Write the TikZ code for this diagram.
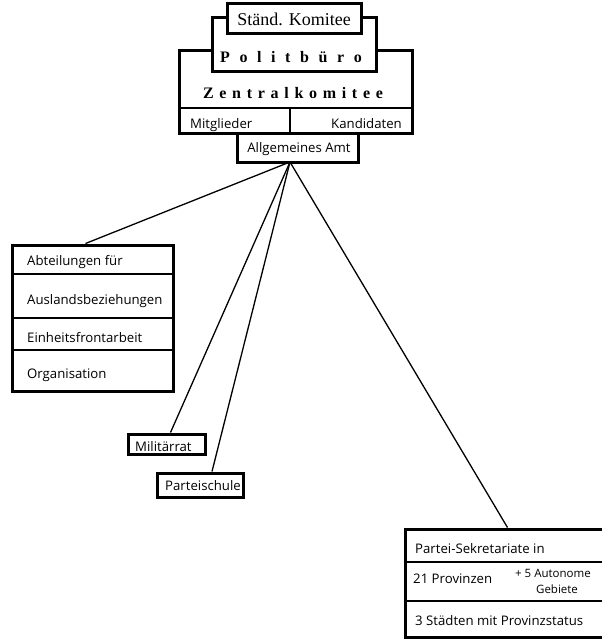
\documentclass[tikz,border=0pt]{standalone}
\usepackage{fontspec}
\setmainfont{Open Sans}
\newfontfamily\serf{Liberation Serif}
\usetikzlibrary{calc}
\newcommand\gsp[1]{\hspace{#1}}
\tikzset{
  box/.style={draw, line width=3pt, fill=white, rectangle, inner sep=0pt},
  conn/.style={line width=1.3pt},
  divl/.style={line width=1.4pt},
  divh/.style={line width=2.2pt},
  lbl/.style={inner sep=0pt, font=\fontsize{13.2}{15}\selectfont},
  small/.style={inner sep=0pt, font=\fontsize{11.5}{13}\selectfont},
}
\begin{document}
\begin{tikzpicture}[x=1pt,y=-1pt]
\useasboundingbox[fill=white] (0,0) rectangle (602,641);

% top committee stack
\node[box, minimum width=233pt, minimum height=83pt] (zk) at (295.5,91.5) {};
\node[box, minimum width=164pt, minimum height=54pt] (pb) at (294,44) {};
\node[box, minimum width=134pt, minimum height=30pt] (sk) at (294,18) {};
\node[box, minimum width=121pt, minimum height=29pt] (amt) at (297.5,147.5) {};
\draw[divl] (179,108) -- (412,108);
\draw[divl] (290,108) -- (290,133);

\node[inner sep=0pt, anchor=base, font=\serf\fontsize{18}{20}\selectfont] (skt) at (294,25) {Ständ. Komitee};
\node[inner sep=0pt, anchor=base, font=\serf\bfseries\fontsize{16}{18}\selectfont] (pbt) at (291,62)
  {P\gsp{9.6pt}o\gsp{9.6pt}l\gsp{9.6pt}i\gsp{9.6pt}t\gsp{9.6pt}b\gsp{9.6pt}ü\gsp{9.6pt}r\gsp{9.6pt}o};
\node[inner sep=0pt, anchor=base, font=\serf\bfseries\fontsize{16}{18}\selectfont] (zkt) at (293,98)
  {Z\gsp{5.7pt}e\gsp{5.7pt}n\gsp{5.7pt}t\gsp{5.7pt}r\gsp{5.7pt}a\gsp{5.7pt}l\gsp{5.7pt}k\gsp{5.7pt}o\gsp{5.7pt}m\gsp{5.7pt}i\gsp{5.7pt}t\gsp{5.7pt}e\gsp{5.7pt}e};
\node[lbl, anchor=base west] (mitt) at (190,128) {Mitglieder};
\node[lbl, anchor=base east] (kant) at (402,128) {Kandidaten};
\node[lbl, anchor=base] (amtt) at (299,152) {Allgemeines Amt};

% Abteilungen box
\node[box, minimum width=161pt, minimum height=146pt] (abt) at (92.5,318) {};
\draw[divh] (12,274) -- (173,274);
\draw[divl] (12,318) -- (173,318);
\draw[divl] (12,350) -- (173,350);
\node[lbl, anchor=base west] (a1) at (27,265) {Abteilungen für};
\node[lbl, anchor=base west] (a2) at (27,304) {Auslandsbeziehungen};
\node[lbl, anchor=base west] (a3) at (27,342) {Einheitsfrontarbeit};
\node[lbl, anchor=base west] (a4) at (27,378) {Organisation};

% Militaerrat / Parteischule
\node[box, minimum width=77pt, minimum height=20pt] (mil) at (166.5,444) {};
\node[lbl, anchor=base west] (milt) at (135,451) {Militärrat};
\node[box, minimum width=86pt, minimum height=24pt] (ps) at (200,485) {};
\node[lbl, anchor=base west] (pst) at (165,490) {Parteischule};

% Partei-Sekretariate box
\node[box, minimum width=199pt, minimum height=108pt] (psek) at (504.5,583) {};
\draw[divh] (405,562) -- (604,562);
\draw[divl] (405,601) -- (604,601);
\node[lbl, anchor=base west] (p1) at (415,553) {Partei-Sekretariate in};
\node[lbl, anchor=base west] (p2) at (413,583) {21 Provinzen};
\node[small, anchor=base] (p3) at (553,577) {+ 5 Autonome};
\node[small, anchor=base] (p4) at (557,593) {Gebiete};
\node[lbl, anchor=base west] (p5) at (415,625) {3 Städten mit Provinzstatus};

% connectors
\coordinate (hub) at (290,162);
\draw[conn] (hub) -- ($(abt.north)+(-7,0)$);
\draw[conn] (hub) -- ($(mil.north)+(4,0)$);
\draw[conn] (hub) -- ($(ps.north)+(12,0)$);
\draw[conn] (hub) -- ($(psek.north)+(3,0)$);
\end{tikzpicture}
\end{document}
